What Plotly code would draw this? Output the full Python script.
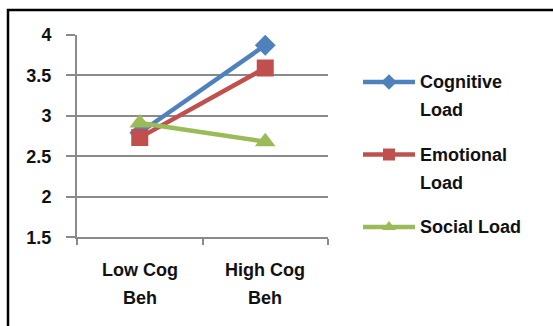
import plotly.graph_objects as go

# Categories and mean scores per load type
categories = ["Low Cog Beh", "High Cog Beh"]
cat_lines = [["Low Cog", "Beh"], ["High Cog", "Beh"]]
cognitive_load = [2.79, 3.87]
emotional_load = [2.73, 3.59]
social_load = [2.91, 2.68]

series_names = [["Cognitive", "Load"], ["Emotional", "Load"], ["Social Load"]]
series_values = [cognitive_load, emotional_load, social_load]
colors = ["#4F81BD", "#C0504D", "#9BBB59"]
symbols = ["diamond", "square", "triangle-up"]
marker_sizes = [16, 17, 18]

W, H = 553, 326
FONT = dict(family="Liberation Sans, Arial, sans-serif", size=18, color="#111111", weight="bold")
GRID = "#8A8A8A"

fig = go.Figure()

for vals, name, c, s, ms in zip(series_values, series_names, colors, symbols, marker_sizes):
    fig.add_trace(go.Scatter(
        x=categories, y=vals, mode="lines+markers", name=" ".join(name),
        line=dict(color=c, width=4.5),
        marker=dict(symbol=s, size=ms, color=c),
        showlegend=False,
    ))

# Hand-built legend on an overlay axis measured in pixels
leg_x0, leg_x1, leg_y0, leg_step, line_gap = 363, 415, 82, 72.5, 28
for i, (name, c, s) in enumerate(zip(series_names, colors, symbols)):
    yy = leg_y0 + i * leg_step
    fig.add_trace(go.Scatter(
        x=[leg_x0, leg_x1], y=[yy, yy], mode="lines", xaxis="x2", yaxis="y2",
        line=dict(color=c, width=4.5), showlegend=False, hoverinfo="skip"))
    fig.add_trace(go.Scatter(
        x=[(leg_x0 + leg_x1) / 2], y=[yy], mode="markers", xaxis="x2", yaxis="y2",
        marker=dict(symbol=s, size=12, color=c), showlegend=False, hoverinfo="skip"))
    for j, part in enumerate(name):
        fig.add_annotation(x=418, y=yy + j * line_gap, xref="x2", yref="y2",
                           text=part, showarrow=False, xanchor="left", yanchor="middle",
                           font=FONT)

# Two-line category labels under the x axis
for cat, lines in zip(categories, cat_lines):
    for j, part in enumerate(lines):
        fig.add_annotation(x=cat, y=(H - 270 - j * 28) / H, xref="x", yref="paper",
                           text=part, showarrow=False, xanchor="center", yanchor="middle",
                           font=FONT)

# Outer chart frame
fig.add_shape(type="rect", xref="paper", yref="paper",
              x0=8 / W, x1=(W + 10) / W, y0=-0.1, y1=(H - 10) / H,
              line=dict(color="black", width=2.5))

fig.update_layout(
    width=W, height=H,
    margin=dict(l=0, r=0, t=0, b=0),
    paper_bgcolor="white", plot_bgcolor="rgba(0,0,0,0)",
    font=FONT,
    xaxis=dict(
        domain=[77 / W, 328 / W], type="category", range=[-0.5, 1.5],
        tickson="boundaries", ticks="outside", ticklen=6, tickcolor=GRID, tickwidth=2,
        showline=True, linecolor=GRID, linewidth=2, showgrid=False,
        showticklabels=False, zeroline=False, automargin=False,
    ),
    yaxis=dict(
        domain=[(H - 237.3) / H, (H - 34.7) / H], range=[1.5, 4], dtick=0.5,
        ticks="outside", ticklen=9, tickcolor=GRID, tickwidth=2,
        showline=True, linecolor=GRID, linewidth=2,
        showgrid=True, gridcolor=GRID, gridwidth=2, zeroline=False,
        tickfont=FONT, ticklabelstandoff=11, automargin=False,
    ),
    xaxis2=dict(domain=[0, 1], range=[0, W], visible=False, anchor="y2", automargin=False),
    yaxis2=dict(domain=[0, 1], range=[H, 0], visible=False, anchor="x2", automargin=False),
)

fig.write_html("out.html")
